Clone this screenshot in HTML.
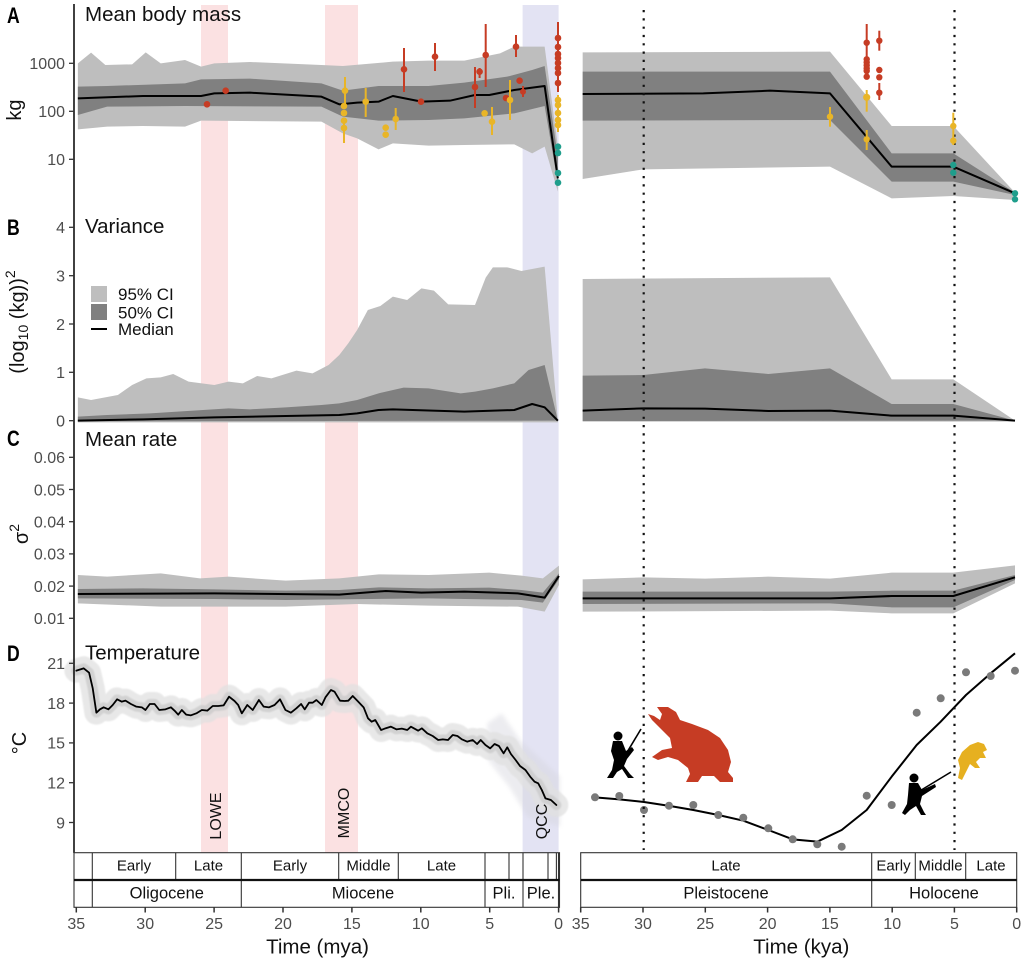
<!DOCTYPE html>
<html><head><meta charset="utf-8"><style>
html,body{margin:0;padding:0;background:#fff;}
svg{display:block;font-family:"Liberation Sans",Arial,sans-serif;}
.tk{fill:#4d4d4d;font-size:16px;}
.tt{fill:#111;font-size:20.5px;}
.bt{fill:#111;font-size:15px;}
.bt2{fill:#111;font-size:16.5px;}
.pl{fill:#000;font-size:22px;font-weight:bold;}
.ns{vector-effect:non-scaling-stroke;}
</style></head><body>
<svg width="1024" height="960" viewBox="0 0 1024 960" xmlns="http://www.w3.org/2000/svg">
<defs>
<filter id="bl" x="-10%" y="-10%" width="120%" height="120%"><feGaussianBlur stdDeviation="2.5"/></filter>
<filter id="bl2" x="-20%" y="-20%" width="140%" height="140%"><feGaussianBlur stdDeviation="6"/></filter>
<path id="tl" class="ns" fill="none" stroke-linejoin="round" stroke-linecap="round" d="M210,122 L230,115 L245,128 L255,175 L265,248 L275,238 L285,232 L298,238 L310,225 L322,208 L335,215 L345,212 L360,222 L375,230 L390,232 L400,240 L412,222 L425,222 L438,240 L455,238 L470,232 L480,242 L490,254 L500,240 L512,254 L525,256 L540,250 L555,240 L570,242 L585,228 L600,228 L615,226 L630,200 L645,213 L655,225 L665,250 L680,225 L695,240 L712,210 L725,230 L740,232 L755,225 L770,208 L785,240 L800,248 L815,235 L828,222 L838,238 L850,218 L860,218 L870,210 L885,225 L895,202 L910,180 L920,185 L935,212 L948,213 L958,212 L970,198 L985,215 L1000,232 L1012,265 L1022,275 L1032,270 L1048,300 L1060,295 L1075,290 L1090,298 L1105,296 L1120,300 L1130,290 L1140,296 L1150,302 L1160,295 L1175,310 L1190,318 L1205,330 L1218,328 L1232,330 L1245,315 L1258,318 L1270,328 L1285,335 L1300,330 L1312,342 L1322,330 L1335,345 L1348,355 L1360,342 L1372,348 L1385,370 L1395,352 L1405,372 L1418,390 L1430,408 L1445,420 L1458,440 L1470,455 L1480,460 L1490,480 L1500,505 L1515,510 L1530,525"/>
</defs>
<rect width="1024" height="960" fill="#fff"/>

<!-- highlights -->
<rect x="201" y="5" width="27" height="847.7" fill="#fbe1e2"/>
<rect x="325" y="5" width="33" height="847.7" fill="#fbe1e2"/>
<rect x="522.6" y="5" width="36" height="847.7" fill="#e3e3f3"/>

<!-- ===== Panel A left ===== -->
<g transform="scale(0.357143,0.333333)">
<polygon fill="#bebebe" points="218,190 255,158 295,195 370,193 408,157 450,190 518,180 563,200 600,190 700,186 900,195 960,198 1100,185 1200,182 1300,182 1400,160 1440,140 1525,140 1562,440 1562,575 1525,440 1490,460 1440,433 1300,435 1200,437 1100,430 1060,448 1000,415 960,400 900,365 563,362 518,380 400,378 300,380 218,388"/>
<polygon fill="#808080" points="218,260 300,258 518,250 563,238 700,236 900,250 960,272 1060,258 1200,258 1300,248 1420,230 1490,210 1525,198 1562,470 1562,550 1525,318 1440,340 1300,355 1200,360 1060,362 960,350 900,320 518,318 300,320 218,345"/>
<polyline class="ns" fill="none" stroke="#000" stroke-width="2" stroke-linejoin="round" points="218,295 400,288 563,288 600,280 700,278 900,290 950,313 1000,308 1060,305 1100,288 1180,305 1260,302 1330,285 1370,285 1440,270 1525,258 1562,535"/>
</g>

<!-- ===== Panel B left ===== -->
<g transform="translate(0,200) scale(0.357143,0.333333)">
<polygon fill="#bebebe" points="218,592 255,600 330,585 370,555 410,535 450,532 485,522 528,545 600,555 640,545 680,550 720,528 760,535 830,512 875,520 920,495 950,465 975,430 1000,390 1030,330 1065,318 1100,290 1140,300 1180,265 1215,272 1255,313 1330,315 1360,233 1380,202 1420,202 1460,213 1525,200 1562,662 1562,667 218,667"/>
<polygon fill="#808080" points="218,650 300,645 420,640 640,625 700,628 800,622 900,615 950,610 1000,600 1060,580 1130,563 1200,565 1290,580 1330,575 1380,565 1440,550 1480,510 1525,495 1562,662 218,664"/>
<polyline class="ns" fill="none" stroke="#000" stroke-width="2" stroke-linejoin="round" points="218,662 400,658 600,652 800,648 950,645 1000,640 1060,630 1100,628 1300,635 1440,630 1490,612 1525,622 1562,662"/>
</g>

<!-- ===== Panel C left ===== -->
<g transform="translate(0,420) scale(0.357143,0.333333)">
<polygon fill="#bebebe" points="218,465 300,470 450,460 560,475 640,470 800,482 950,475 1060,463 1200,465 1370,458 1460,467 1520,475 1565,437 1565,495 1525,575 1450,560 1200,557 1000,552 800,560 450,560 218,550"/>
<polygon fill="#808080" points="218,507 400,505 600,508 800,512 950,510 1060,502 1200,505 1370,503 1460,510 1520,518 1565,460 1565,478 1520,548 1460,540 1200,535 950,538 800,540 600,537 218,535"/>
<polyline class="ns" fill="none" stroke="#000" stroke-width="2" stroke-linejoin="round" points="218,522 600,520 950,524 1080,513 1180,518 1300,515 1450,520 1525,533 1565,468"/>
</g>

<!-- ===== Panel D left ===== -->
<g transform="translate(0,630) scale(0.363636,0.333333)">
<path filter="url(#bl2)" fill="#d6d6de" opacity="0.45" d="M1340,280 L1380,250 L1430,330 L1490,390 L1540,440 L1540,590 L1450,560 L1400,470 L1345,395 Z"/>
<g filter="url(#bl)">
<use href="#tl" stroke="#e0e0e0" stroke-width="24" opacity="0.75"/>
<use href="#tl" stroke="#c6c6c6" stroke-width="10" opacity="0.65"/>
</g>
<use href="#tl" stroke="#000" stroke-width="1.8"/>
</g>

<!-- ===== Right panels A, B, C ===== -->
<g transform="translate(570,0) scale(0.333333)">
<polygon fill="#bebebe" points="38,157 780,155 965,378 1150,378 1335,578 1335,600 1150,588 965,595 780,500 220,508 38,537"/>
<polygon fill="#808080" points="38,215 780,215 965,460 1150,460 1335,578 1335,585 1150,545 965,545 780,360 38,362"/>
<polyline class="ns" fill="none" stroke="#000" stroke-width="2" stroke-linejoin="round" points="38,282 400,280 600,272 780,280 965,500 1150,500 1335,580"/>
</g>
<g transform="translate(570,200) scale(0.333333)">
<polygon fill="#bebebe" points="38,237 780,232 965,538 1150,538 1335,662 1335,665 38,665"/>
<polygon fill="#808080" points="38,527 220,525 405,505 595,522 780,505 965,612 1150,612 1335,662 38,663"/>
<polyline class="ns" fill="none" stroke="#000" stroke-width="2" stroke-linejoin="round" points="38,632 220,625 405,626 595,633 780,632 965,647 1150,647 1335,662"/>
<polygon fill="#bebebe" points="38,1138 220,1132 405,1136 595,1130 780,1136 965,1118 1150,1118 1335,1096 1335,1150 1150,1240 965,1240 780,1232 38,1235"/>
<polygon fill="#808080" points="38,1175 780,1175 965,1172 1150,1172 1335,1125 1335,1140 1150,1222 965,1222 780,1210 38,1212"/>
<polyline class="ns" fill="none" stroke="#000" stroke-width="2" stroke-linejoin="round" points="38,1195 780,1195 965,1188 1150,1188 1335,1132"/>
</g>

<!-- ===== Panel D right ===== -->
<g transform="translate(570,630) scale(0.333333)">
<polyline class="ns" fill="none" stroke="#000" stroke-width="2" stroke-linejoin="round" points="75,502 148,508 222,516 300,528 370,540 445,555 520,572 595,600 668,628 742,635 815,600 890,540 965,440 1040,345 1112,275 1150,235 1188,195 1262,130 1335,70"/>
</g>
<g fill="#7a7a7a">
<circle cx="595" cy="797.3" r="4"/><circle cx="619.3" cy="796" r="4"/><circle cx="644" cy="810" r="4"/>
<circle cx="669" cy="805.7" r="4"/><circle cx="693.3" cy="805" r="4"/><circle cx="718.3" cy="815" r="4"/>
<circle cx="743.3" cy="817.7" r="4"/><circle cx="768.3" cy="828.3" r="4"/><circle cx="792.7" cy="839.3" r="4"/>
<circle cx="817.3" cy="844.3" r="4"/><circle cx="841.7" cy="846.7" r="4"/><circle cx="866.7" cy="795.7" r="4"/>
<circle cx="891.7" cy="805" r="4"/><circle cx="916.7" cy="712.7" r="4"/><circle cx="940.7" cy="698.3" r="4"/>
<circle cx="966" cy="672.3" r="4"/><circle cx="990.7" cy="676" r="4"/><circle cx="1015" cy="670.7" r="4"/>
</g>

<!-- dotted lines -->
<line x1="643.7" y1="10" x2="643.7" y2="850" stroke="#111" stroke-width="2.2" stroke-dasharray="2.2 6.1"/>
<line x1="954.5" y1="10" x2="954.5" y2="850" stroke="#111" stroke-width="2.2" stroke-dasharray="2.2 6.1"/>

<!-- ===== Points panel A left ===== -->
<g stroke="#c63c24" stroke-width="2" fill="#c63c24">
<line x1="404" y1="48" x2="404" y2="92"/><line x1="435" y1="43" x2="435" y2="71"/>
<line x1="475" y1="67" x2="475" y2="108"/><line x1="479.6" y1="68" x2="479.6" y2="78"/>
<line x1="485.7" y1="24" x2="485.7" y2="87"/><line x1="516" y1="35" x2="516" y2="57"/>
<line x1="523" y1="86" x2="523" y2="97"/><line x1="558" y1="22" x2="558" y2="92"/>
</g>
<g fill="#c63c24">
<circle cx="207" cy="104.3" r="3.3"/><circle cx="225.7" cy="90.7" r="3.3"/><circle cx="404" cy="69.3" r="3.3"/>
<circle cx="435" cy="56.7" r="3.3"/><circle cx="421" cy="101.7" r="3.3"/><circle cx="475" cy="87" r="3.3"/>
<circle cx="479.6" cy="71.7" r="3.3"/><circle cx="485.7" cy="55" r="3.3"/><circle cx="516" cy="46.7" r="3.3"/>
<circle cx="506" cy="98" r="3.3"/><circle cx="519.6" cy="80.7" r="3.3"/><circle cx="523" cy="91.7" r="3"/>
<circle cx="558" cy="38" r="3.3"/><circle cx="558" cy="47" r="3.3"/><circle cx="558" cy="54" r="3.3"/>
<circle cx="558" cy="58" r="3.3"/><circle cx="558" cy="63" r="3.3"/><circle cx="558" cy="68" r="3.3"/>
<circle cx="558" cy="73" r="3.3"/><circle cx="558" cy="83" r="3.3"/>
</g>
<g stroke="#e9b527" stroke-width="2" fill="none">
<line x1="345" y1="77" x2="345" y2="107"/><line x1="344" y1="120" x2="344" y2="143"/>
<line x1="365.7" y1="88" x2="365.7" y2="117"/><line x1="395.7" y1="108" x2="395.7" y2="130"/>
<line x1="492" y1="107" x2="492" y2="135"/><line x1="510" y1="80" x2="510" y2="120"/>
<line x1="558" y1="95" x2="558" y2="132"/>
</g>
<g fill="#e9b527">
<circle cx="345" cy="90.7" r="3.3"/><circle cx="344" cy="106" r="3.3"/><circle cx="344" cy="113" r="3.3"/>
<circle cx="344" cy="120.7" r="3.3"/><circle cx="344" cy="128" r="3.3"/><circle cx="365.7" cy="101.7" r="3.3"/>
<circle cx="385.7" cy="127.7" r="3.3"/><circle cx="385.7" cy="134.7" r="3.3"/><circle cx="395.7" cy="119" r="3.3"/>
<circle cx="484.6" cy="113.3" r="3.3"/><circle cx="492" cy="121.7" r="3.3"/><circle cx="510" cy="100" r="3.3"/>
<circle cx="558" cy="100" r="3.3"/><circle cx="558" cy="105" r="3.3"/><circle cx="558" cy="113" r="3.3"/>
<circle cx="558" cy="120" r="3.3"/><circle cx="558" cy="125" r="3.3"/>
</g>
<g fill="#1f9e8c">
<circle cx="558" cy="146.7" r="3.3"/><circle cx="558" cy="153" r="3.3"/><circle cx="558" cy="173" r="3.3"/><circle cx="558" cy="182.7" r="3.3"/>
</g>

<!-- ===== Points panel A right ===== -->
<g stroke="#c63c24" stroke-width="2">
<line x1="866.7" y1="24" x2="866.7" y2="78"/><line x1="879.3" y1="30.7" x2="879.3" y2="50.7"/>
<line x1="879.3" y1="83" x2="879.3" y2="100"/>
</g>
<g fill="#c63c24">
<circle cx="866.7" cy="42.7" r="3.2"/><circle cx="866.7" cy="59.3" r="3.2"/><circle cx="866.7" cy="62.5" r="3.2"/>
<circle cx="866.7" cy="65.5" r="3.2"/><circle cx="866.7" cy="68.5" r="3.2"/><circle cx="866.7" cy="71" r="3.2"/>
<circle cx="866.7" cy="76.7" r="3.2"/><circle cx="879.3" cy="40.7" r="3.2"/><circle cx="879.3" cy="70" r="3.2"/>
<circle cx="879.3" cy="77.3" r="3.2"/><circle cx="879.3" cy="92.7" r="3.2"/>
</g>
<g stroke="#e9b527" stroke-width="2">
<line x1="866.7" y1="90" x2="866.7" y2="111.7"/><line x1="866.7" y1="130" x2="866.7" y2="150"/>
<line x1="830" y1="107" x2="830" y2="126.7"/><line x1="953.3" y1="112.7" x2="953.3" y2="145"/>
</g>
<g fill="#e9b527">
<circle cx="866.7" cy="97.3" r="3.6"/><circle cx="866.7" cy="139.3" r="3.2"/><circle cx="830" cy="116.7" r="3.2"/>
<circle cx="953.3" cy="126" r="3.2"/><circle cx="953.3" cy="140.7" r="3.2"/>
</g>
<g fill="#1f9e8c">
<circle cx="953.3" cy="165" r="3.2"/><circle cx="953.3" cy="172.7" r="3.2"/><circle cx="1015" cy="193.3" r="3.2"/><circle cx="1015" cy="199.3" r="3.2"/>
</g>

<!-- ===== silhouettes ===== -->
<g fill="#000">
<circle cx="618" cy="736" r="4.5"/>
<path d="M613,741 L622,741 L626,751 L632,747 L634,750 L627,759 L624,766 L630,774 L634,778 L628,778 L622,769 L617,772 L613,778 L607,778 L612,770 L614,760 L611,751 Z"/>
</g>
<line x1="617" y1="769" x2="641" y2="729" stroke="#000" stroke-width="1.6"/>
<path fill="#c63c24" d="M657,707 L668,707 L676,712 L680,720 L692,724 L708,730 L720,738 L728,750 L731,762 L728,772 L733,778 L733,782 L720,782 L714,776 L702,776 L698,782 L686,782 L690,774 L688,768 L678,760 L668,757 L658,760 L652,757 L662,750 L672,748 L670,738 L660,728 L652,720 L648,714 L654,716 L660,720 L662,714 Z"/>
<g fill="#000">
<circle cx="914" cy="778" r="4.5"/>
<path d="M909,783 L918,783 L922,790 L935,784 L936,787 L922,796 L920,804 L924,812 L926,815 L921,815 L916,806 L910,810 L905,815 L902,813 L907,804 L908,795 Z"/>
</g>
<line x1="918" y1="792" x2="951" y2="772" stroke="#000" stroke-width="1.6"/>
<path fill="#e6b020" d="M962,752 L970,745 L978,742 L984,744 L987,750 L983,752 L986,758 L980,758 L976,762 L980,768 L975,768 L970,764 L966,772 L962,780 L958,778 L960,768 L958,760 Z"/>

<!-- ===== axis ===== -->
<line x1="74" y1="4" x2="74" y2="853" stroke="#111" stroke-width="1.6"/>
<g stroke="#333" stroke-width="1.3">
<line x1="69" y1="63.3" x2="74" y2="63.3"/><line x1="69" y1="111.3" x2="74" y2="111.3"/><line x1="69" y1="159.3" x2="74" y2="159.3"/>
<line x1="69" y1="227.3" x2="74" y2="227.3"/><line x1="69" y1="275.7" x2="74" y2="275.7"/><line x1="69" y1="324" x2="74" y2="324"/>
<line x1="69" y1="372.3" x2="74" y2="372.3"/><line x1="69" y1="420.7" x2="74" y2="420.7"/>
<line x1="69" y1="457.3" x2="74" y2="457.3"/><line x1="69" y1="489.5" x2="74" y2="489.5"/><line x1="69" y1="521.7" x2="74" y2="521.7"/>
<line x1="69" y1="553.9" x2="74" y2="553.9"/><line x1="69" y1="586.1" x2="74" y2="586.1"/><line x1="69" y1="618.3" x2="74" y2="618.3"/>
<line x1="69" y1="663.3" x2="74" y2="663.3"/><line x1="69" y1="703.1" x2="74" y2="703.1"/><line x1="69" y1="742.9" x2="74" y2="742.9"/>
<line x1="69" y1="782.7" x2="74" y2="782.7"/><line x1="69" y1="822.5" x2="74" y2="822.5"/>
</g>
<g class="tk" text-anchor="end">
<text x="65" y="69">1000</text><text x="65" y="117">100</text><text x="65" y="165">10</text>
<text x="65" y="233">4</text><text x="65" y="281.5">3</text><text x="65" y="330">2</text><text x="65" y="378">1</text><text x="65" y="426.5">0</text>
<text x="65" y="463">0.06</text><text x="65" y="495.3">0.05</text><text x="65" y="527.5">0.04</text><text x="65" y="559.7">0.03</text><text x="65" y="591.9">0.02</text><text x="65" y="624">0.01</text>
<text x="65" y="669">21</text><text x="65" y="709">18</text><text x="65" y="748.7">15</text><text x="65" y="788.5">12</text><text x="65" y="828.3">9</text>
</g>

<!-- panel letters & titles -->
<g class="pl">
<text transform="translate(7,23) scale(0.8,1)">A</text>
<text transform="translate(7,235) scale(0.8,1)">B</text>
<text transform="translate(7,446) scale(0.8,1)">C</text>
<text transform="translate(7,661) scale(0.8,1)">D</text>
</g>
<g class="tt">
<text x="85" y="21">Mean body mass</text>
<text x="85" y="233">Variance</text>
<text x="85" y="446">Mean rate</text>
<text x="85" y="659.5">Temperature</text>
</g>
<g fill="#111" font-size="20px">
<text transform="translate(21,110) rotate(-90)" text-anchor="middle">kg</text>
<text transform="translate(24,322) rotate(-90)" text-anchor="middle">(log<tspan font-size="14px" dy="4">10</tspan><tspan dy="-4"> (kg))</tspan><tspan font-size="14px" dy="-9">2</tspan></text>
<text transform="translate(28,534) rotate(-90)" text-anchor="middle">σ<tspan font-size="14px" dy="-9">2</tspan></text>
<text transform="translate(26,743) rotate(-90)" text-anchor="middle">°C</text>
</g>

<!-- legend -->
<rect x="91" y="286" width="16" height="16" fill="#bebebe"/>
<rect x="91" y="304" width="16" height="16" fill="#808080"/>
<line x1="91" y1="329" x2="107" y2="329" stroke="#000" stroke-width="2"/>
<g fill="#111" font-size="17px">
<text x="118" y="300">95% CI</text>
<text x="118" y="318.5">50% CI</text>
<text x="118" y="335">Median</text>
</g>

<!-- event labels -->
<g fill="#111" font-size="16px">
<text transform="translate(221,816) rotate(-90)" text-anchor="middle">LOWE</text>
<text transform="translate(349,813) rotate(-90)" text-anchor="middle">MMCO</text>
<text transform="translate(547,821.5) rotate(-90)" text-anchor="middle">QCC</text>
</g>

<!-- ===== bottom bars left ===== -->
<g stroke="#333" stroke-width="1.1" fill="none">
<rect x="74" y="852.7" width="485.5" height="54.6" fill="#fff"/>
<line x1="92.3" y1="852.7" x2="92.3" y2="907.3"/>
<line x1="175.7" y1="852.7" x2="175.7" y2="880"/>
<line x1="241.3" y1="852.7" x2="241.3" y2="907.3"/>
<line x1="338.7" y1="852.7" x2="338.7" y2="880"/>
<line x1="398.3" y1="852.7" x2="398.3" y2="880"/>
<line x1="485" y1="852.7" x2="485" y2="907.3"/>
<line x1="509" y1="852.7" x2="509" y2="880"/>
<line x1="523" y1="852.7" x2="523" y2="907.3"/>
<line x1="548" y1="852.7" x2="548" y2="880"/>
<line x1="556.4" y1="852.7" x2="556.4" y2="880"/>
<line x1="558.5" y1="852.7" x2="558.5" y2="907.3"/>
</g>
<line x1="74" y1="880" x2="559.5" y2="880" stroke="#111" stroke-width="2.2"/>
<!-- right bars -->
<g stroke="#333" stroke-width="1.1" fill="none">
<rect x="580.7" y="852.7" width="436" height="54.6" fill="#fff"/>
<line x1="871.7" y1="852.7" x2="871.7" y2="907.3"/>
<line x1="915.3" y1="852.7" x2="915.3" y2="880"/>
<line x1="965.7" y1="852.7" x2="965.7" y2="880"/>
</g>
<line x1="580.7" y1="880" x2="1016.7" y2="880" stroke="#111" stroke-width="2.2"/>
<g text-anchor="middle">
<g class="bt">
<text x="134" y="870.5">Early</text><text x="208.5" y="870.5">Late</text><text x="290" y="870.5">Early</text>
<text x="368.5" y="870.5">Middle</text><text x="441.5" y="870.5">Late</text>
<text x="726" y="870.5">Late</text><text x="893.5" y="870.5">Early</text><text x="940.5" y="870.5">Middle</text><text x="991" y="870.5">Late</text>
</g>
<g class="bt2">
<text x="166.8" y="898.5">Oligocene</text><text x="363" y="898.5">Miocene</text><text x="504" y="898.5">Pli.</text><text x="541" y="898.5">Ple.</text>
<text x="726" y="898.5">Pleistocene</text><text x="944" y="898.5">Holocene</text>
</g>
</g>

<!-- x ticks -->
<g stroke="#333" stroke-width="1.5">
<line x1="76.3" y1="907.3" x2="76.3" y2="912.5"/><line x1="145.2" y1="907.3" x2="145.2" y2="912.5"/>
<line x1="214.1" y1="907.3" x2="214.1" y2="912.5"/><line x1="283" y1="907.3" x2="283" y2="912.5"/>
<line x1="351.9" y1="907.3" x2="351.9" y2="912.5"/><line x1="420.8" y1="907.3" x2="420.8" y2="912.5"/>
<line x1="489.7" y1="907.3" x2="489.7" y2="912.5"/><line x1="558.6" y1="907.3" x2="558.6" y2="912.5"/>
<line x1="580.7" y1="907.3" x2="580.7" y2="912.5"/><line x1="643" y1="907.3" x2="643" y2="912.5"/>
<line x1="705.3" y1="907.3" x2="705.3" y2="912.5"/><line x1="767.6" y1="907.3" x2="767.6" y2="912.5"/>
<line x1="829.9" y1="907.3" x2="829.9" y2="912.5"/><line x1="892.2" y1="907.3" x2="892.2" y2="912.5"/>
<line x1="954.4" y1="907.3" x2="954.4" y2="912.5"/><line x1="1016.7" y1="907.3" x2="1016.7" y2="912.5"/>
</g>
<g class="tk" text-anchor="middle">
<text x="76.3" y="929">35</text><text x="145.2" y="929">30</text><text x="214.1" y="929">25</text><text x="283" y="929">20</text>
<text x="351.9" y="929">15</text><text x="420.8" y="929">10</text><text x="489.7" y="929">5</text><text x="558.6" y="929">0</text>
<text x="580.7" y="929">35</text><text x="643" y="929">30</text><text x="705.3" y="929">25</text><text x="767.6" y="929">20</text>
<text x="829.9" y="929">15</text><text x="892.2" y="929">10</text><text x="954.4" y="929">5</text><text x="1016.7" y="929">0</text>
</g>
<g fill="#111" font-size="20.5px" text-anchor="middle">
<text x="317.5" y="953.5">Time (mya)</text>
<text x="801.3" y="953.5">Time (kya)</text>
</g>
</svg>
</body></html>
